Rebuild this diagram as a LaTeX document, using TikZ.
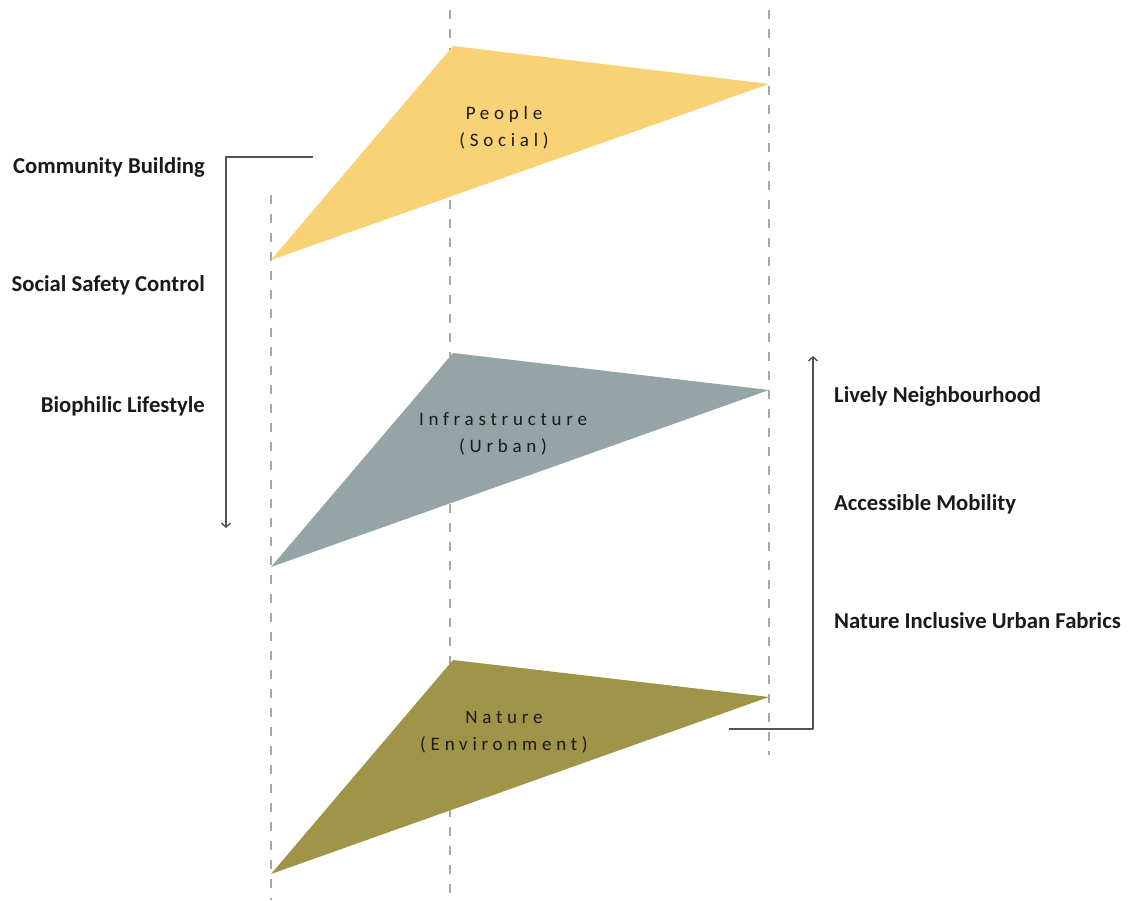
\documentclass[tikz,border=0pt]{standalone}
\usepackage{fontspec}
\setmainfont{Carlito}
\usetikzlibrary{arrows.meta}
\definecolor{sun}{HTML}{F8D274}
\definecolor{slate}{HTML}{95A4A7}
\definecolor{moss}{HTML}{A09449}
\definecolor{guide}{HTML}{A8A8A8}
\definecolor{ink}{HTML}{1A1A1A}
\tikzset{
  every picture/.style={line join=round, >={Straight Barb[length=4pt,width=9pt]}},
  guideline/.style={guide, line width=1.3pt, dash pattern=on 9pt off 10pt},
  bracket/.style={ink!75, line width=1.4pt},
  layer/.style={text=ink, align=center, font=\fontsize{19}{27}\selectfont\addfontfeature{LetterSpace=25}},
  aspect/.style={text=ink, font=\fontsize{22.7}{26}\selectfont\bfseries, inner sep=0pt},
}
\begin{document}
\begin{tikzpicture}[x=1pt,y=-1pt]
\useasboundingbox (0,0) rectangle (1129,900);
\draw[guideline](271,195)--(271,900);
\draw[guideline](450,10)--(450,900);
\draw[guideline](769,10)--(769,755);
\fill[sun](453,46)--(769,84)--(271,260)--cycle;
\fill[slate](453,353)--(769,390)--(271,567)--cycle;
\fill[moss](453,660)--(769,697)--(271,874)--cycle;
\node[layer] (people) at (504,128) {People\\(Social)};
\node[layer] (infra) at (503,434) {Infrastructure\\(Urban)};
\node[layer] (nature) at (504,732) {Nature\\(Environment)};
\node[aspect,anchor=east] (community) at (205,167) {Community Building};
\node[aspect,anchor=east] (safety) at (205,285) {Social Safety Control};
\node[aspect,anchor=east] (biophilic) at (205,406) {Biophilic Lifestyle};
\node[aspect,anchor=west] (lively) at (834,396) {Lively Neighbourhood};
\node[aspect,anchor=west] (mobility) at (834,504) {Accessible Mobility};
\node[aspect,anchor=west] (fabrics) at (834,621) {Nature Inclusive Urban Fabrics};
\coordinate (downstart) at (313,157);
\coordinate (downcorner) at (226,157);
\coordinate (downend) at (226,528);
\coordinate (upstart) at (729,729);
\coordinate (upcorner) at (813,729);
\coordinate (upend) at (813,356);
\draw[bracket,->](downstart)--(downcorner)--(downend);
\draw[bracket,->](upstart)--(upcorner)--(upend);
\end{tikzpicture}
\end{document}
